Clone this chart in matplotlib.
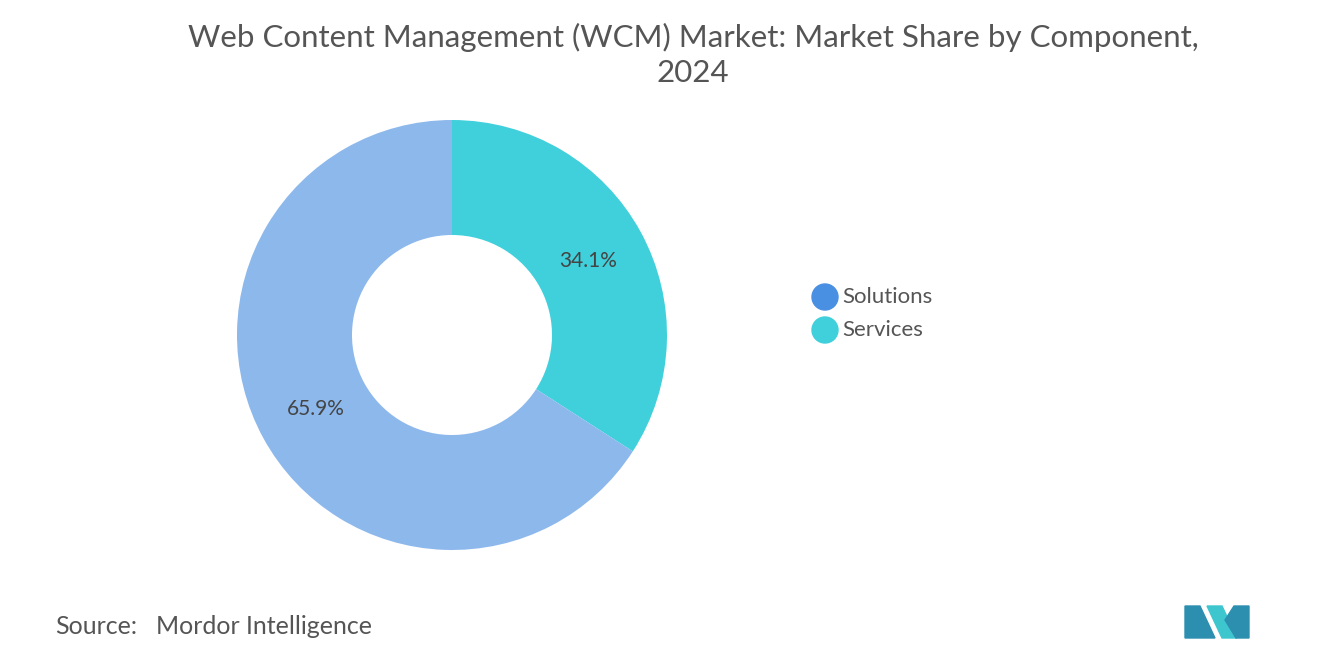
import matplotlib.pyplot as plt
import matplotlib.patches as mpatches

# Data
components = ['Solutions', 'Services']
shares = [65.9, 34.1]
slice_colors = ['#8db8ec', '#40d0dc']
legend_colors = ['#4a90e2', '#40d0dc']

plt.rcParams['font.family'] = 'Lato'

fig = plt.figure(figsize=(13.2, 6.65), dpi=100)

# Donut centred at about (452, 335) px, outer radius 215 px
ax = fig.add_axes([(452 - 215) / 1320, (665 - 335 - 215) / 665, 430 / 1320, 430 / 665])
wedges, texts, autotexts = ax.pie(
    shares[::-1], colors=slice_colors[::-1], startangle=90, counterclock=False,
    radius=1, wedgeprops=dict(width=1 - 100 / 215, edgecolor='none'),
    autopct='%1.1f%%', pctdistance=0.72,
    textprops=dict(color='#444444', fontsize=15))
ax.set_aspect('equal')
ax.set_xlim(-1, 1)
ax.set_ylim(-1, 1)

fig.text(0.525, 0.965, 'Web Content Management (WCM) Market: Market Share by Component,\n2024',
         ha='center', va='top', fontsize=22.5, color='#555555', linespacing=1.3)

# Legend
for i, (name, col) in enumerate(zip(components, legend_colors)):
    y = 1 - (297 + 33 * i) / 665
    fig.patches.append(mpatches.Ellipse((825 / 1320, y), 26 / 1320, 26 / 665,
                                        transform=fig.transFigure, color=col))
    fig.text(842 / 1320, y, name, va='center', fontsize=16, color='#555555')

fig.text(55 / 1320, 1 - 627 / 665, 'Source:', fontsize=18, color='#555555',
         va='center')
fig.text(156 / 1320, 1 - 627 / 665, 'Mordor Intelligence', fontsize=18,
         color='#555555', va='center')

# Logo
logo = [
    ([(1185, 638), (1185, 606), (1200, 606), (1215, 638)], '#2c8fb0'),
    ([(1207, 606), (1222, 606), (1237, 638), (1222, 638)], '#3ec6cf'),
    ([(1225, 620), (1234, 606), (1249, 606), (1249, 638), (1236, 638)], '#2c8fb0'),
]
for pts, col in logo:
    fig.patches.append(mpatches.Polygon([(x / 1320, 1 - y / 665) for x, y in pts],
                                        closed=True, transform=fig.transFigure,
                                        color=col))

fig.savefig('out.png', dpi=100, facecolor='white')
